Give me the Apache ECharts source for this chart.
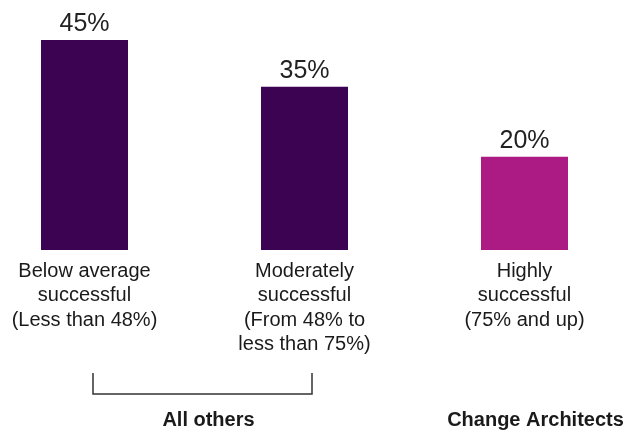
<!DOCTYPE html>
<html><head><meta charset="utf-8">
<script src="https://cdn.jsdelivr.net/npm/echarts@6/dist/echarts.min.js"></script>
<style>html,body{margin:0;padding:0;background:#fff}#c{width:641px;height:432px}</style>
</head><body><div id="c"></div>
<script>
const categories = ['Below average\nsuccessful\n(Less than 48%)', 'Moderately\nsuccessful\n(From 48% to\nless than 75%)', 'Highly\nsuccessful\n(75% and up)'];
const values = [45, 35, 20];
const barColors = ['#3d0353', '#3d0353', '#ab1b83'];
const groupLabels = ['All others', 'Change Architects'];
const FONT = '"Liberation Sans", Arial, sans-serif';

const chart = echarts.init(document.getElementById('c'), null, {renderer: 'canvas'});
chart.setOption({
  animation: false,
  backgroundColor: '#fff',
  grid: {left: 84.5, right: 116.5, top: 16.67, bottom: 182, containLabel: false},
  xAxis: {
    type: 'category', data: categories, boundaryGap: false,
    axisLine: {show: false}, axisTick: {show: false}, splitLine: {show: false},
    axisLabel: {color: '#1a1a1a', fontSize: 20, lineHeight: 24.5, fontFamily: FONT, margin: 9, align: 'center', interval: 0}
  },
  yAxis: {type: 'value', min: 0, max: 50, show: false, splitLine: {show: false}},
  series: [{
    type: 'bar', barWidth: 87,
    data: values.map((v, i) => ({value: v, itemStyle: {color: barColors[i]}})),
    label: {show: true, position: 'top', distance: 3, formatter: '{c}%', color: '#222', fontSize: 25, fontFamily: FONT}
  }]
});

const p0 = chart.convertToPixel({xAxisIndex: 0}, 0);
const p1 = chart.convertToPixel({xAxisIndex: 0}, 1);
const p2 = chart.convertToPixel({xAxisIndex: 0}, 2);
const bx0 = p0 + 8.5, bx1 = p1 + 7.5, yTop = 373, yBot = 394;
chart.setOption({
  graphic: [
    {type: 'polyline', shape: {points: [[bx0, yTop], [bx0, yBot], [bx1, yBot], [bx1, yTop]]}, style: {stroke: '#333', lineWidth: 1.5, fill: null}},
    {type: 'text', x: (bx0 + bx1) / 2 + 6, y: 420, style: {text: groupLabels[0], font: 'bold 20px ' + FONT, fill: '#1a1a1a', align: 'center', verticalAlign: 'middle'}},
    {type: 'text', x: p2 + 11, y: 420, style: {text: groupLabels[1], font: 'bold 20px ' + FONT, fill: '#1a1a1a', align: 'center', verticalAlign: 'middle'}}
  ]
});
</script></body></html>
